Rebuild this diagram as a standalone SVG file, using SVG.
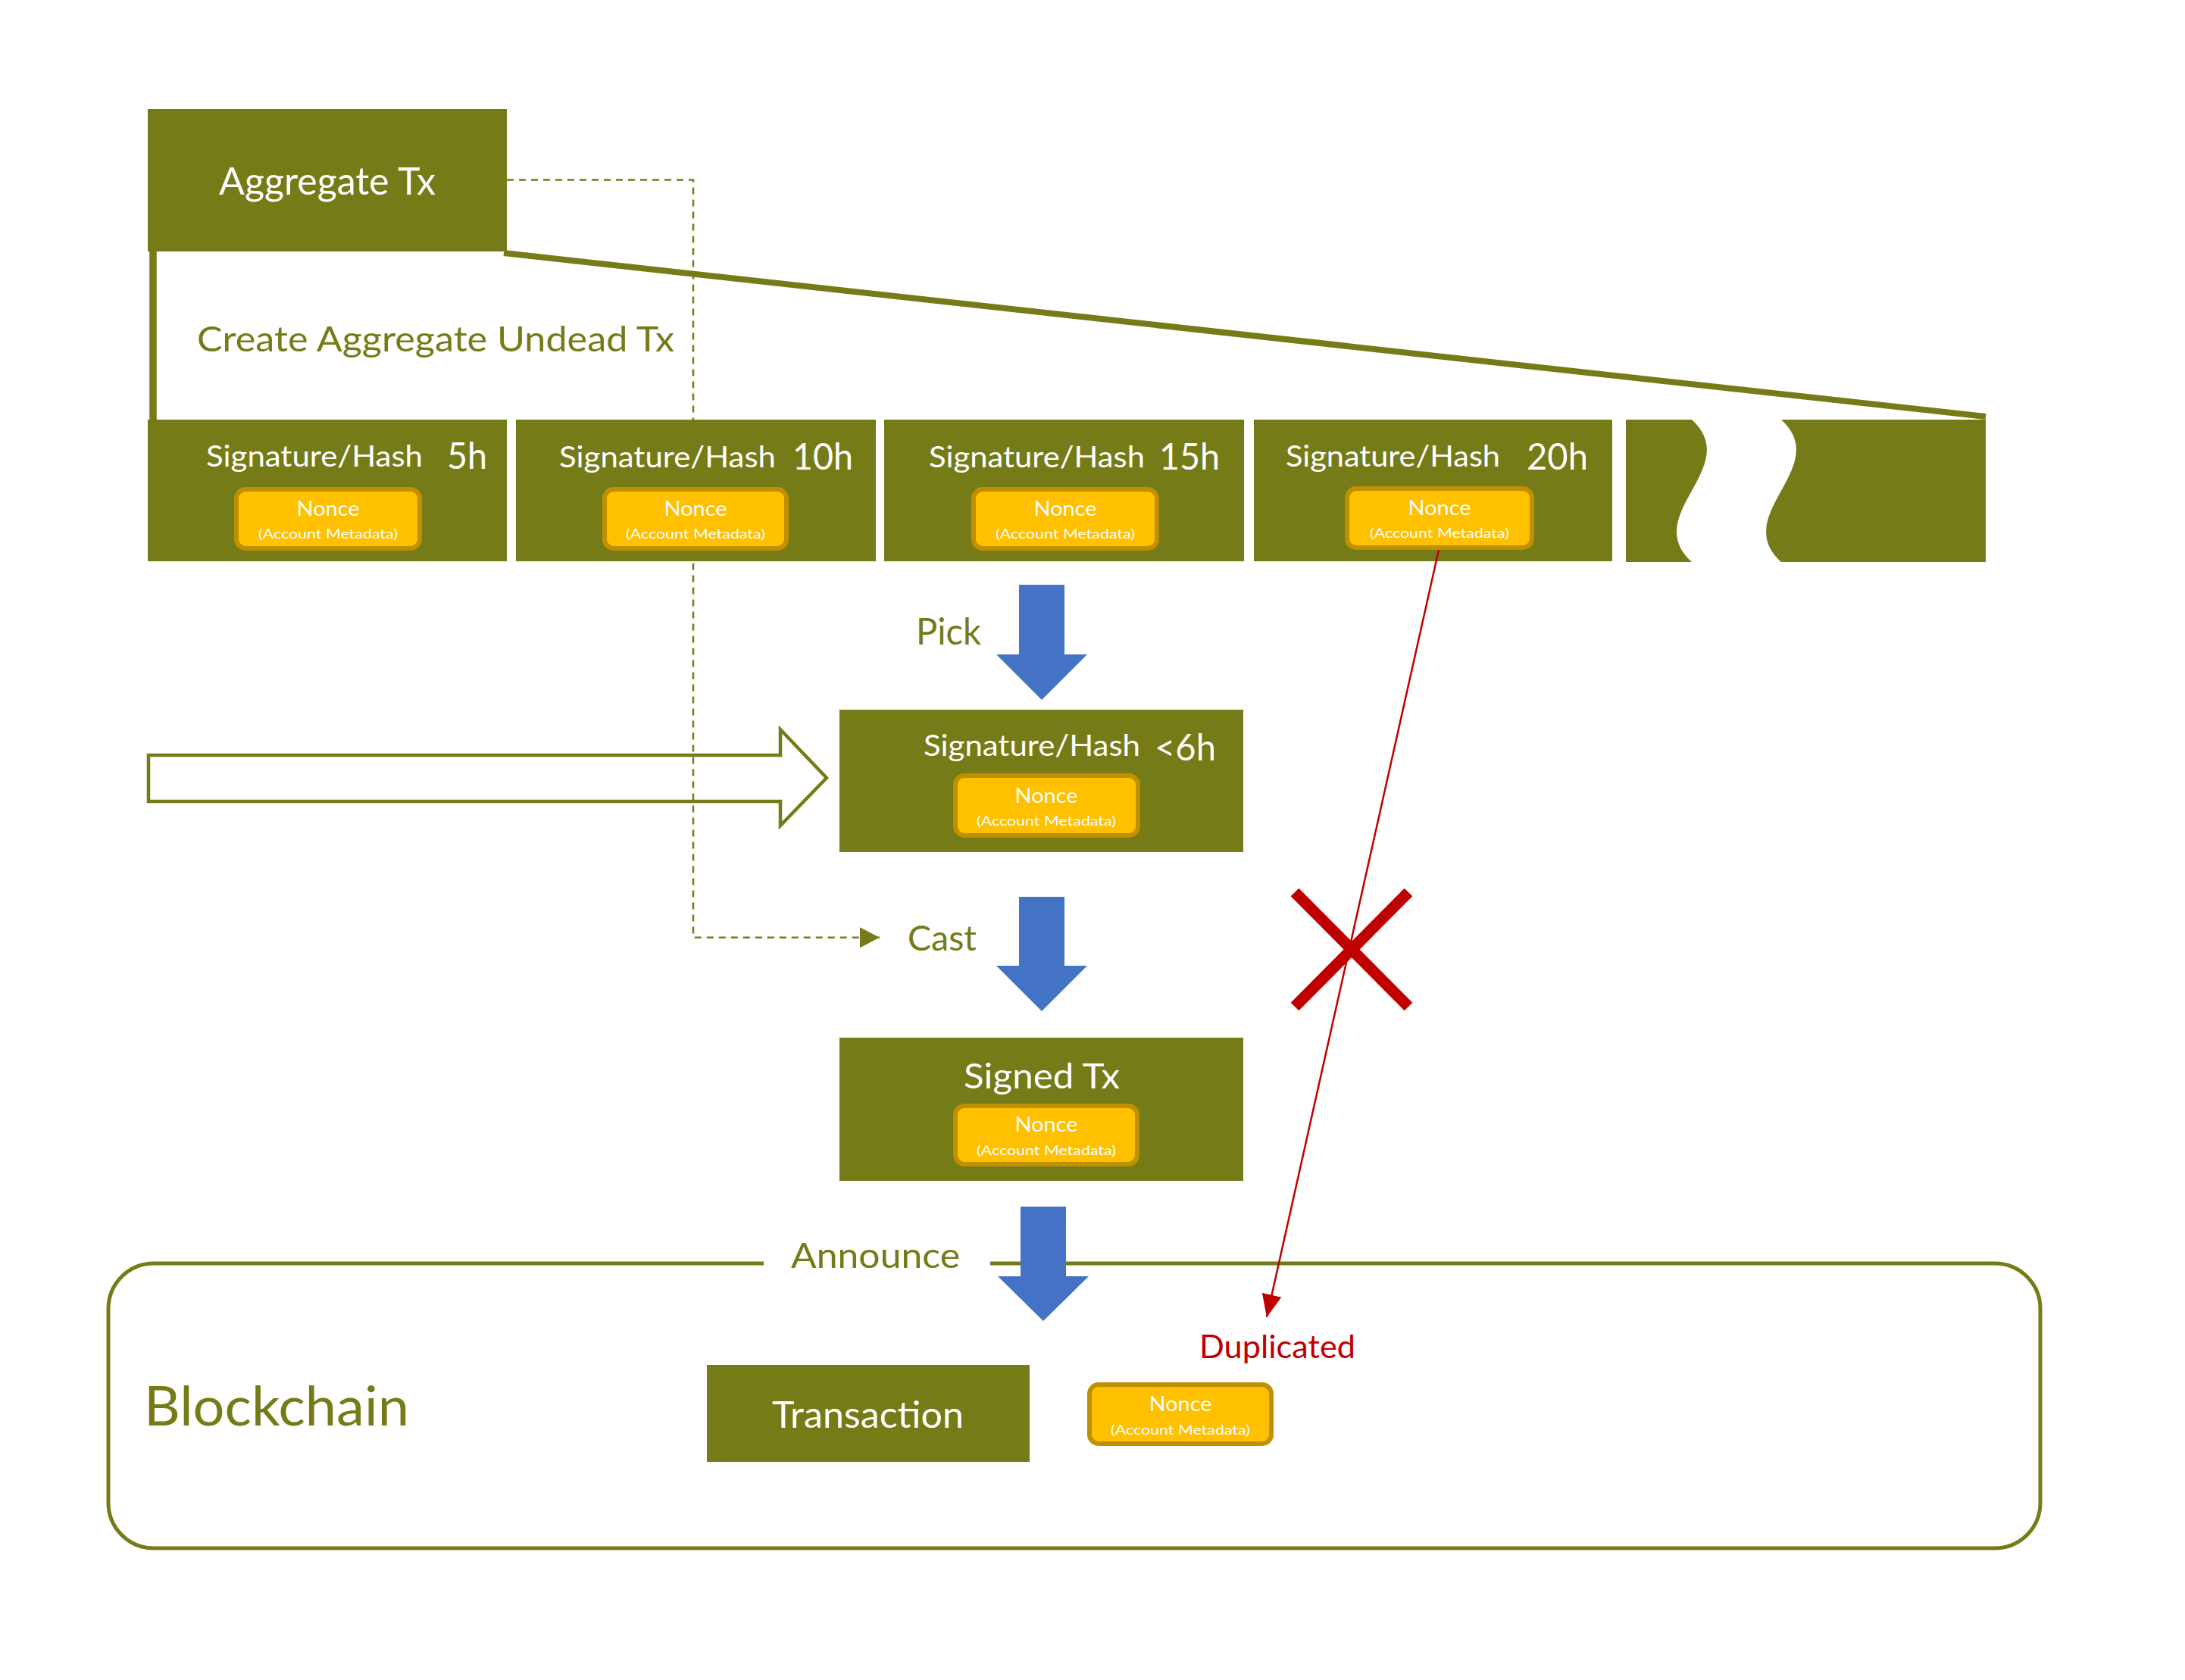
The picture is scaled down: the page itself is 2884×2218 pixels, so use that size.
<svg xmlns="http://www.w3.org/2000/svg" width="2884" height="2218" viewBox="0 0 2884 2218">
<style>
  .box { fill: #757B16; }
  .nonce { fill: #FFC000; stroke: #BF9000; stroke-width: 6; }
  .t { font-family: Lato, "Open Sans", "Liberation Sans", sans-serif; }
  .w { fill: #FFFFFF; }
  .g { fill: #757B16; }
  .r { fill: #C00000; }
  .blue { fill: #4472C4; }
  .dash { fill: none; stroke: #757B16; stroke-width: 2.5; stroke-dasharray: 9 7; }
</style>
<defs>
  <marker id="mGreen" markerUnits="userSpaceOnUse" markerWidth="28" markerHeight="28" refX="26" refY="13.5" orient="auto" viewBox="0 0 28 28">
    <path d="M0,0 L26,13.5 L0,27 Z" fill="#757B16"/>
  </marker>
  <marker id="mRed" markerUnits="userSpaceOnUse" markerWidth="32" markerHeight="28" refX="30" refY="13" orient="auto" viewBox="0 0 32 28">
    <path d="M0,0 L30,13 L0,26 Z" fill="#C00000"/>
  </marker>
</defs>

<g id="connectors">
  <path class="dash" d="M669,237.5 H915 V1237.7 H1161" marker-end="url(#mGreen)"/>
  <line x1="665" y1="334" x2="2621" y2="550" stroke="#757B16" stroke-width="8"/>
  <line x1="202" y1="330" x2="202" y2="556" stroke="#757B16" stroke-width="9.5"/>
</g>

<g id="aggregate-tx">
  <rect class="box" x="195" y="144" width="474" height="188"/>
  <text class="t w" x="289" y="257" font-size="50" textLength="286" lengthAdjust="spacingAndGlyphs">Aggregate Tx</text>
</g>

<g id="create-label">
  <text class="t g" x="260" y="464" font-size="47" textLength="630" lengthAdjust="spacingAndGlyphs">Create Aggregate Undead Tx</text>
</g>

<g id="sig-5h">
  <rect class="box" x="195" y="554" width="474" height="187"/>
  <text class="t w" x="272" y="616" font-size="38" textLength="286" lengthAdjust="spacingAndGlyphs">Signature/Hash</text>
  <text class="t w" x="590" y="619" font-size="49" textLength="53" lengthAdjust="spacingAndGlyphs">5h</text>
  <rect class="nonce" x="312" y="646" width="242" height="78" rx="12"/>
  <text class="t w" x="433" y="681" font-size="27" text-anchor="middle" textLength="83" lengthAdjust="spacingAndGlyphs">Nonce</text>
  <text class="t w" x="433" y="711" font-size="18" text-anchor="middle" textLength="184" lengthAdjust="spacingAndGlyphs">(Account Metadata)</text>
</g>

<g id="sig-10h">
  <rect class="box" x="681" y="554" width="475" height="187"/>
  <text class="t w" x="738" y="617" font-size="38" textLength="286" lengthAdjust="spacingAndGlyphs">Signature/Hash</text>
  <text class="t w" x="1046" y="620" font-size="49" textLength="80" lengthAdjust="spacingAndGlyphs">10h</text>
  <rect class="nonce" x="798" y="646" width="240" height="78" rx="12"/>
  <text class="t w" x="918" y="681" font-size="27" text-anchor="middle" textLength="83" lengthAdjust="spacingAndGlyphs">Nonce</text>
  <text class="t w" x="918" y="711" font-size="18" text-anchor="middle" textLength="184" lengthAdjust="spacingAndGlyphs">(Account Metadata)</text>
</g>

<g id="sig-15h">
  <rect class="box" x="1167" y="554" width="475" height="187"/>
  <text class="t w" x="1226" y="617" font-size="38" textLength="285" lengthAdjust="spacingAndGlyphs">Signature/Hash</text>
  <text class="t w" x="1530" y="620" font-size="49" textLength="80" lengthAdjust="spacingAndGlyphs">15h</text>
  <rect class="nonce" x="1285" y="646" width="242" height="78" rx="12"/>
  <text class="t w" x="1406" y="681" font-size="27" text-anchor="middle" textLength="83" lengthAdjust="spacingAndGlyphs">Nonce</text>
  <text class="t w" x="1406" y="711" font-size="18" text-anchor="middle" textLength="184" lengthAdjust="spacingAndGlyphs">(Account Metadata)</text>
</g>

<g id="sig-20h">
  <rect class="box" x="1655" y="554" width="473" height="187"/>
  <text class="t w" x="1697" y="616" font-size="38" textLength="283" lengthAdjust="spacingAndGlyphs">Signature/Hash</text>
  <text class="t w" x="2015" y="620" font-size="49" textLength="81" lengthAdjust="spacingAndGlyphs">20h</text>
  <rect class="nonce" x="1778" y="645" width="244" height="78" rx="12"/>
  <text class="t w" x="1900" y="680" font-size="27" text-anchor="middle" textLength="83" lengthAdjust="spacingAndGlyphs">Nonce</text>
  <text class="t w" x="1900" y="710" font-size="18" text-anchor="middle" textLength="184" lengthAdjust="spacingAndGlyphs">(Account Metadata)</text>
</g>

<g id="sig-more">
  <path class="box" d="M2146,554 H2233 C2302,617 2164,679 2233,742 H2146 Z"/>
  <path class="box" d="M2351,554 C2420,617 2282,679 2351,742 H2621 V554 Z"/>
</g>

<g id="pick-arrow">
  <path class="blue" d="M1345,772 H1405 V864 H1435 L1375,924 L1315,864 H1345 Z"/>
  <text class="t g" x="1209" y="851" font-size="48" textLength="86" lengthAdjust="spacingAndGlyphs">Pick</text>
</g>

<g id="hollow-arrow">
  <path d="M196,997 H1030 V963 L1091,1027 L1030,1090 V1058 H196 Z" fill="none" stroke="#757B16" stroke-width="4.5"/>
</g>

<g id="sig-6h">
  <rect class="box" x="1108" y="937" width="533" height="188"/>
  <text class="t w" x="1219" y="998" font-size="38" textLength="286" lengthAdjust="spacingAndGlyphs">Signature/Hash</text>
  <text class="t w" x="1524" y="1004" font-size="49" textLength="81" lengthAdjust="spacingAndGlyphs">&lt;6h</text>
  <rect class="nonce" x="1261" y="1024" width="241" height="79" rx="12"/>
  <text class="t w" x="1381" y="1060" font-size="27" text-anchor="middle" textLength="83" lengthAdjust="spacingAndGlyphs">Nonce</text>
  <text class="t w" x="1381" y="1090" font-size="18" text-anchor="middle" textLength="184" lengthAdjust="spacingAndGlyphs">(Account Metadata)</text>
</g>

<g id="cast-arrow">
  <path class="blue" d="M1345,1184 H1405 V1275 H1435 L1375,1335 L1315,1275 H1345 Z"/>
  <text class="t g" x="1198" y="1255" font-size="47" textLength="91" lengthAdjust="spacingAndGlyphs">Cast</text>
</g>

<g id="signed-tx">
  <rect class="box" x="1108" y="1370" width="533" height="189"/>
  <text class="t w" x="1272" y="1437" font-size="47" textLength="206" lengthAdjust="spacingAndGlyphs">Signed Tx</text>
  <rect class="nonce" x="1261" y="1460" width="240" height="77" rx="12"/>
  <text class="t w" x="1381" y="1494" font-size="27" text-anchor="middle" textLength="83" lengthAdjust="spacingAndGlyphs">Nonce</text>
  <text class="t w" x="1381" y="1525" font-size="18" text-anchor="middle" textLength="184" lengthAdjust="spacingAndGlyphs">(Account Metadata)</text>
</g>

<g id="blockchain">
  <path d="M1307,1668 H2633 A60,60 0 0 1 2693,1728 V1984 A60,60 0 0 1 2633,2044 H203 A60,60 0 0 1 143,1984 V1728 A60,60 0 0 1 203,1668 H1008" fill="none" stroke="#757B16" stroke-width="5"/>
  <text class="t g" x="190" y="1882" font-size="72" textLength="350" lengthAdjust="spacingAndGlyphs">Blockchain</text>
</g>

<g id="transaction">
  <rect class="box" x="933" y="1802" width="426" height="128"/>
  <text class="t w" x="1019" y="1885" font-size="49" textLength="253" lengthAdjust="spacingAndGlyphs">Transaction</text>
</g>

<g id="chain-nonce">
  <rect class="nonce" x="1438" y="1828" width="240" height="78" rx="12"/>
  <text class="t w" x="1558" y="1863" font-size="27" text-anchor="middle" textLength="83" lengthAdjust="spacingAndGlyphs">Nonce</text>
  <text class="t w" x="1558" y="1894" font-size="18" text-anchor="middle" textLength="184" lengthAdjust="spacingAndGlyphs">(Account Metadata)</text>
</g>

<g id="announce-arrow">
  <path class="blue" d="M1347,1593 H1407 V1685 H1437 L1377,1744 L1317,1685 H1347 Z"/>
  <text class="t g" x="1044" y="1674" font-size="47" textLength="223" lengthAdjust="spacingAndGlyphs">Announce</text>
</g>

<g id="duplicate">
  <line x1="1899" y1="726" x2="1672" y2="1739" stroke="#C00000" stroke-width="2.5" marker-end="url(#mRed)"/>
  <line x1="1709" y1="1178" x2="1859" y2="1329" stroke="#C00000" stroke-width="15"/>
  <line x1="1859" y1="1178" x2="1709" y2="1329" stroke="#C00000" stroke-width="15"/>
  <text class="t r" x="1583" y="1793" font-size="42" textLength="206" lengthAdjust="spacingAndGlyphs">Duplicated</text>
</g>
</svg>
